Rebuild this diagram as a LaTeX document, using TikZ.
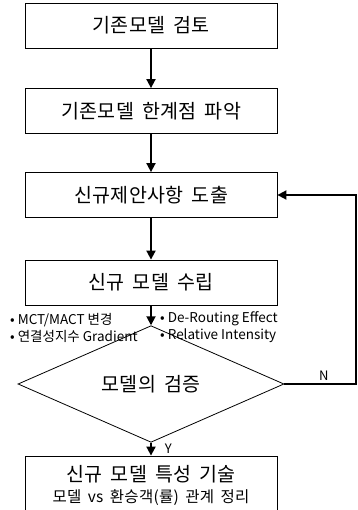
\documentclass[tikz,border=0pt]{standalone}
\usepackage{fontspec}
\setmainfont{Noto Sans CJK KR}[WordSpace=1.7, LetterSpace=2]
\newfontfamily\notefont{Noto Sans CJK KR}
\usetikzlibrary{shapes.geometric}
\usetikzlibrary{arrows.meta}
\tikzstyle{process}=[draw, line width=0.8, minimum width=252, minimum height=45, inner sep=0, font=\fontsize{19.5}{22}\selectfont]
\tikzstyle{decision}=[draw, diamond, line width=0.8, minimum width=266, minimum height=60, inner sep=0, font=\fontsize{19.5}{22}\selectfont]
\tikzstyle{flow}=[line width=1.8, -{Triangle[width=9,length=9]}]
\tikzstyle{note}=[anchor=west, align=left, inner sep=0, font=\notefont\fontsize{13.5}{17.5}\selectfont]
\tikzstyle{answer}=[inner sep=0, text height=9, text depth=0, font=\notefont\fontsize{13}{15}\selectfont]

\begin{document}
\begin{tikzpicture}[x=1pt, y=-1pt]
          \useasboundingbox (0, 0) rectangle (357, 510);
          \node[process] (review) at (151, 25.5) {기존모델 검토};
          \node[process] (limits) at (151, 111) {기존모델 한계점 파악};
          \node[process] (propose) at (151, 195) {신규제안사항 도출};
          \node[process] (build) at (151, 282.5) {신규 모델 수립};
          \node[decision] (check) at (151, 384) {모델의 검증};
          \node[process, minimum height=58, align=center] (describe) at (151, 485)
            {신규 모델 특성 기술\\[-1]{\fontsize{15.5}{17}\selectfont 모델 vs 환승객(률) 관계 정리}};
          \node[note] (note_left) at (10, 328) {• MCT/MACT 변경\\• 연결성지수 Gradient};
          \node[note] (note_right) at (160, 327) {• De-Routing Effect\\• Relative Intensity};
          \coordinate (back) at (356, 384);

          \draw[flow] (review) -- (limits);
          \draw[flow] (limits) -- (propose);
          \draw[flow] (propose) -- (build);
          \draw[flow] (build) -- (check);
          \draw[flow] (check) -- node[answer, right, pos=0.5, xshift=13] {Y} (describe);
          \draw[flow] (check.east) -- node[answer, above, pos=0.55, yshift=3] {N} (back) |- (propose.east);
        \end{tikzpicture}
\end{document}
